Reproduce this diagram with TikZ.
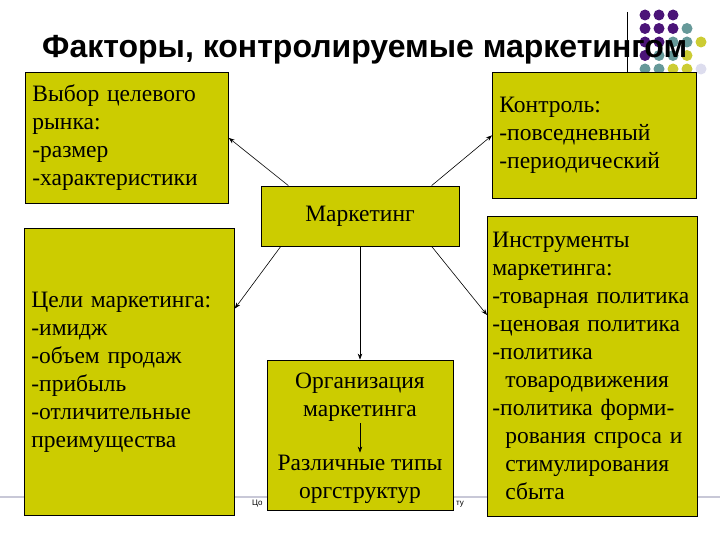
\documentclass[tikz,border=0pt]{standalone}
\usepackage{fontspec}
\setmainfont{Liberation Serif}
\newfontfamily\titlefont{Liberation Sans}
\usepackage{xcolor}
\usepackage{tikz}
\usetikzlibrary{positioning}
\usetikzlibrary{arrows.meta}

\definecolor{boxfill}{RGB}{204,204,0}
\definecolor{dotpurple}{RGB}{75,20,120}
\definecolor{dotteal}{RGB}{102,153,153}
\definecolor{dotolive}{RGB}{204,204,51}
\definecolor{dotlilac}{RGB}{221,221,238}
\definecolor{footline}{RGB}{200,200,215}

\begin{document}
\begin{tikzpicture}[x=1pt,y=-1pt,
  box/.style={draw=black, fill=boxfill, line width=0.8pt, font=\fontsize{23.5}{28}\selectfont},
  listbox/.style={box, anchor=north west, align=left, inner xsep=7pt, inner ysep=2pt},
  plain/.style={font=\fontsize{23.5}{28}\selectfont, align=center, inner sep=2pt},
  arr/.style={-{Stealth[length=6pt,width=4.5pt]}, line width=0.6pt}]
\useasboundingbox (0,0) rectangle (720,540);

\draw[footline, line width=1.5pt] (0,497) -- (720,497);
\node[font=\titlefont\fontsize{8}{9}\selectfont, anchor=west, inner sep=0pt] (footl) at (252,504) {Цо};
\node[font=\titlefont\fontsize{8}{9}\selectfont, anchor=east, inner sep=0pt] (footr) at (464,504) {ту};

% dots in the corner
\foreach \c/\r/\col in {0/0/dotpurple,1/0/dotpurple,2/0/dotpurple,
    0/1/dotpurple,1/1/dotpurple,2/1/dotpurple,3/1/dotteal,
    0/2/dotpurple,1/2/dotpurple,2/2/dotteal,3/2/dotteal,4/2/dotolive,
    0/3/dotpurple,1/3/dotteal,2/3/dotteal,3/3/dotolive,
    0/4/dotteal,1/4/dotteal,2/4/dotolive,3/4/dotolive,4/4/dotlilac}
  \fill[\col] (645+14*\c,15+13.5*\r) circle (5.5pt);
\draw[line width=0.8pt] (627,12) -- (627,72);

\node[font=\titlefont\bfseries\fontsize{32}{36}\selectfont, anchor=base west, inner sep=0pt] (title) at (42,58) {Факторы, контролируемые маркетингом};

\node[listbox, text width=189, minimum height=131] (target) at (25,72) {Выбор целевого\\рынка:\\-размер\\-характеристики};
\node[listbox, text width=190, minimum height=126] (control) at (492,72) {Контроль:\\-повседневный\\-периодический};
\node[listbox, text width=196, minimum height=287] (goals) at (24,228) {Цели маркетинга:\\-имидж\\-объем продаж\\-прибыль\\-отличительные\\преимущества};
\node[listbox, text width=200, inner xsep=5pt, minimum height=300] (tools) at (487,216) {Инструменты\\маркетинга:\\-товарная политика\\-ценовая политика\\-политика\\\hspace*{0.55em}товародвижения\\-политика форми-\\\hspace*{0.55em}рования спроса и\\\hspace*{0.55em}стимулирования\\\hspace*{0.55em}сбыта};
\node[box, minimum width=198, minimum height=60] (mkt) at (360,216) {Маркетинг};
\node[box, minimum width=186, minimum height=150] (org) at (360,435) {};
\node[plain] (orgtop) at (360,397) {Организация\\маркетинга};
\node[plain] (orgbot) at (360,479) {Различные типы\\оргструктур};

\draw[arr] (mkt.157) -- (target.east);
\draw[arr] (mkt.23) -- (control.west);
\draw[arr] (mkt.201) -- (goals.31);
\draw[arr] (mkt.-23) -- (tools.154);
\draw[arr] (mkt.south) -- (org.north);
\draw[arr] (orgtop.south) -- (orgbot.north);
\end{tikzpicture}
\end{document}
